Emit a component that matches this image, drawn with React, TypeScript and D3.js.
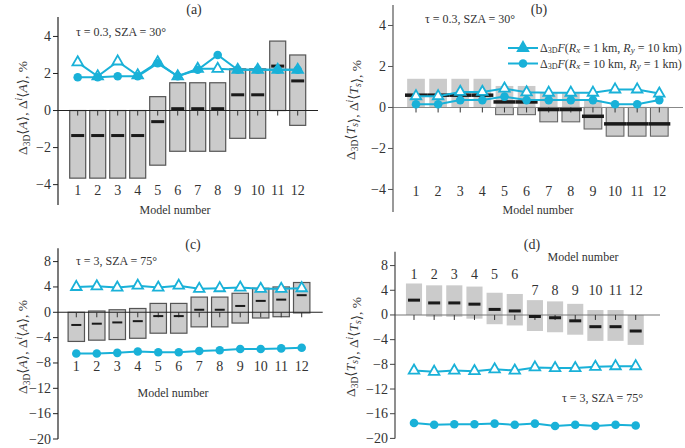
import React from 'react';
import * as d3 from 'd3';

const modelNumbers = [1, 2, 3, 4, 5, 6, 7, 8, 9, 10, 11, 12];
const yTicksTop = [-4, -2, 0, 2, 4];
const yTicksBottom = [-20, -16, -12, -8, -4, 0, 4, 8];

// Panel (a): tau = 0.3, SZA = 30, albedo
const aHigh = [0, 0, 0, 0, 0.75, 1.5, 1.5, 1.5, 2.25, 2.25, 3.75, 3.0];
const aLow = [-3.65, -3.65, -3.65, -3.65, -2.95, -2.2, -2.2, -2.2, -1.5, -1.5, 0, -0.8];
const aMedian = [-1.35, -1.35, -1.35, -1.35, -0.6, 0.1, 0.1, 0.1, 0.85, 0.85, 2.4, 1.6];
const aTri = [2.6, 1.85, 2.65, 1.9, 2.6, 1.85, 2.25, 2.25, 2.2, 2.2, 2.2, 2.2];
const aCirc = [1.8, 1.8, 1.85, 1.85, 2.55, 1.85, 2.2, 3.0, 2.2, 2.2, 2.2, 2.2];

// Panel (b): tau = 0.3, SZA = 30, surface transmittance
const bHigh = [1.4, 1.4, 1.4, 1.4, 1.05, 1.05, 0.7, 0.7, 0.35, 0, 0, 0];
const bLow = [0, 0, 0, 0, -0.35, -0.35, -0.7, -0.7, -1.05, -1.4, -1.4, -1.4];
const bMedian = [0.6, 0.6, 0.6, 0.6, 0.27, 0.27, -0.1, -0.1, -0.43, -0.8, -0.8, -0.8];
const bTri = [0.55, 0.55, 0.76, 0.76, 0.92, 0.74, 0.72, 0.72, 0.72, 0.88, 0.88, 0.68];
const bCirc = [0.16, 0.16, 0.36, 0.36, 0.53, 0.36, 0.36, 0.36, 0.36, 0.16, 0.16, 0.36];

// Panel (c): tau = 3, SZA = 75, albedo
const cHigh = [0, 0.2, 0.4, 0.6, 1.4, 1.4, 2.4, 2.4, 3.0, 3.8, 4.0, 4.7];
const cLow = [-4.6, -4.4, -4.3, -4.1, -3.3, -3.3, -2.3, -2.3, -1.7, -0.9, -0.7, -0.1];
const cMedian = [-2.0, -1.8, -1.6, -1.4, -0.6, -0.6, 0.4, 0.4, 1.0, 1.8, 2.0, 2.7];
const cTri = [4.0, 4.1, 3.9, 4.2, 3.9, 4.2, 3.7, 3.8, 3.9, 3.7, 3.7, 3.8];
const cCirc = [-6.5, -6.5, -6.4, -6.2, -6.3, -6.3, -6.1, -6.0, -5.8, -5.8, -5.7, -5.6];

// Panel (d): tau = 3, SZA = 75, surface transmittance
const dHigh = [5.1, 4.8, 4.8, 4.6, 3.6, 3.4, 2.4, 2.2, 1.8, 0.8, 0.8, 0];
const dLow = [0, -0.3, -0.3, -0.6, -1.5, -1.7, -2.6, -2.8, -3.2, -4.2, -4.2, -4.85];
const dMedian = [2.4, 1.95, 1.95, 1.75, 0.9, 0.65, -0.25, -0.45, -0.95, -1.9, -1.9, -2.6];
const dTri = [-9.0, -9.2, -9.0, -9.1, -8.8, -9.0, -8.5, -8.6, -8.6, -8.4, -8.3, -8.3];
const dCirc = [-17.5, -17.8, -17.7, -17.7, -17.6, -17.8, -17.6, -18.0, -17.8, -18.0, -17.8, -17.9];

const CYAN = '#19b1d8';
const FONT = '"Liberation Serif", "DejaVu Serif", serif';
const fmt = (v: number) => (v < 0 ? '\u2212' + Math.abs(v) : String(v));

type Cfg = {
  axisX: number;
  axisEnd: number;
  first: number;
  last: number;
  yTop: number;
  yBottom: number;
  dTop: number;
  dBottom: number;
  ticks: number[];
  high: number[];
  low: number[];
  median: number[];
  tri: number[];
  circ: number[];
  strokeMode: 'all' | 'neg' | 'none';
  medianW: number;
  medianH: number;
  zeroColor: string;
  axisColor: string;
  labelY: (i: number) => number;
};

function Panel({ cfg }: { cfg: Cfg }) {
  const x = d3.scaleLinear().domain([1, 12]).range([cfg.first, cfg.last]);
  const y = d3.scaleLinear().domain([cfg.dBottom, cfg.dTop]).range([cfg.yBottom, cfg.yTop]);
  const bw = (x(2) - x(1)) * 0.8;
  const line = d3
    .line<number>()
    .x((_, i) => x(modelNumbers[i]))
    .y((d) => y(d));
  const triPath = d3.symbol().type(d3.symbolTriangle).size(48)() as string;
  const y0 = y(0);
  return (
    <g>
      {modelNumbers.map((m, i) => {
        const hi = cfg.high[i];
        const lo = cfg.low[i];
        const stroke = cfg.strokeMode === 'all' ? '#555' : 'none';
        return (
          <g key={'b' + m}>
            <rect
              x={x(m) - bw / 2}
              y={y(hi)}
              width={bw}
              height={y(lo) - y(hi)}
              fill="#cbcbcb"
              stroke={stroke}
              strokeWidth={1.2}
            />
            {cfg.strokeMode === 'neg' && lo < 0 && (
              <rect
                x={x(m) - bw / 2}
                y={y(Math.min(hi, 0))}
                width={bw}
                height={y(lo) - y(Math.min(hi, 0))}
                fill="none"
                stroke="#666"
                strokeWidth={1.1}
              />
            )}
          </g>
        );
      })}
      <line x1={cfg.axisX} x2={cfg.axisEnd} y1={y0} y2={y0} stroke={cfg.zeroColor} strokeWidth={1.1} />
      {modelNumbers.map((m) => (
        <line key={'t' + m} x1={x(m)} x2={x(m)} y1={y0} y2={y0 + 5} stroke="#333" strokeWidth={1} />
      ))}
      {modelNumbers.map((m, i) => (
        <rect
          key={'m' + m}
          x={x(m) - cfg.medianW / 2}
          y={y(cfg.median[i]) - cfg.medianH / 2}
          width={cfg.medianW}
          height={cfg.medianH}
          fill="#1a1a1a"
        />
      ))}
      <line x1={cfg.axisX} x2={cfg.axisX} y1={cfg.yTop} y2={cfg.yBottom} stroke={cfg.axisColor} strokeWidth={1.2} />
      {cfg.ticks.map((t) => (
        <g key={'y' + t}>
          <line x1={cfg.axisX - 5} x2={cfg.axisX} y1={y(t)} y2={y(t)} stroke={cfg.axisColor} strokeWidth={1} />
          <text
            x={cfg.axisX - 7}
            y={y(t)}
            textAnchor="end"
            dominantBaseline="central"
            fontSize={14}
            fontFamily={FONT}
            fill="#333"
          >
            {fmt(t)}
          </text>
        </g>
      ))}
      {modelNumbers.map((m, i) => (
        <text
          key={'x' + m}
          x={x(m)}
          y={cfg.labelY(i)}
          textAnchor="middle"
          dominantBaseline="central"
          fontSize={14}
          fontFamily={FONT}
          fill="#333"
        >
          {m}
        </text>
      ))}
      <path d={line(cfg.tri) as string} fill="none" stroke={CYAN} strokeWidth={2} />
      <path d={line(cfg.circ) as string} fill="none" stroke={CYAN} strokeWidth={2} />
      {modelNumbers.map((m, i) => (
        <path
          key={'tr' + m}
          d={triPath}
          transform={`translate(${x(m)},${y(cfg.tri[i])})`}
          fill="#fff"
          stroke={CYAN}
          strokeWidth={1.8}
        />
      ))}
      {modelNumbers.map((m, i) => (
        <circle key={'c' + m} cx={x(m)} cy={y(cfg.circ[i])} r={4.3} fill={CYAN} />
      ))}
    </g>
  );
}

function YLabel({ x, y, sym }: { x: number; y: number; sym: 'A' | 'T' }) {
  const inner = (k: string) =>
    sym === 'A' ? (
      <tspan key={k} fontStyle="italic">A</tspan>
    ) : (
      [
        <tspan key={k + 'T'} fontStyle="italic">T</tspan>,
        <tspan key={k + 's'} fontStyle="italic" fontSize={9.5} dy={3}>s</tspan>,
        <tspan key={k + 'r'} dy={-3}>{''}</tspan>,
      ]
    );
  return (
    <text
      transform={`translate(${x},${y}) rotate(-90)`}
      textAnchor="middle"
      fontSize={13.5}
      fontFamily={FONT}
      fill="#333"
    >
      <tspan>Δ</tspan>
      <tspan fontSize={9.5} dy={3}>3D</tspan>
      <tspan dy={-3}>⟨</tspan>
      {inner('a')}
      <tspan>⟩, Δ</tspan>
      <tspan fontSize={9.5} dy={-5} fontStyle="italic">i</tspan>
      <tspan dy={5}>⟨</tspan>
      {inner('b')}
      <tspan>⟩, %</tspan>
    </text>
  );
}

function Txt({ x, y, children, size = 12, anchor = 'start' }: any) {
  return (
    <text x={x} y={y} fontSize={size} fontFamily={FONT} fill="#333" dominantBaseline="central" textAnchor={anchor}>
      {children}
    </text>
  );
}

export default function App() {
  const triPath = d3.symbol().type(d3.symbolTriangle).size(48)() as string;
  const cfgA: Cfg = {
    axisX: 58, axisEnd: 318, first: 77.7, last: 297.7,
    yTop: 17, yBottom: 205, dTop: 5.05, dBottom: -5.1, ticks: yTicksTop,
    high: aHigh, low: aLow, median: aMedian, tri: aTri, circ: aCirc,
    strokeMode: 'all', medianW: 13, medianH: 3, zeroColor: '#222', axisColor: '#222',
    labelY: () => 190,
  };
  const cfgB: Cfg = {
    axisX: 393, axisEnd: 683, first: 416, last: 659.3,
    yTop: 5, yBottom: 212, dTop: 5.0, dBottom: -5.1, ticks: yTicksTop,
    high: bHigh, low: bLow, median: bMedian, tri: bTri, circ: bCirc,
    strokeMode: 'neg', medianW: 22, medianH: 3.5, zeroColor: '#888', axisColor: '#555',
    labelY: () => 191,
  };
  const cfgC: Cfg = {
    axisX: 58, axisEnd: 322.7, first: 76.3, last: 301.7,
    yTop: 248.3, yBottom: 439, dTop: 10.1, dBottom: -20, ticks: yTicksBottom,
    high: cHigh, low: cLow, median: cMedian, tri: cTri, circ: cCirc,
    strokeMode: 'all', medianW: 10, medianH: 2, zeroColor: '#222', axisColor: '#222',
    labelY: () => 366.7,
  };
  const cfgD: Cfg = {
    axisX: 395, axisEnd: 660, first: 414, last: 635.7,
    yTop: 251.7, yBottom: 438.4, dTop: 10.25, dBottom: -20, ticks: yTicksBottom,
    high: dHigh, low: dLow, median: dMedian, tri: dTri, circ: dCirc,
    strokeMode: 'none', medianW: 12, medianH: 3, zeroColor: '#777', axisColor: '#444',
    labelY: (i: number) => (i < 6 ? 274 : 290),
  };
  return (
    <svg width={685} height={448} style={{ position: 'absolute', left: 0, top: 0, background: '#fff' }}>
      <rect width={685} height={448} fill="#fff" />
      <Panel cfg={cfgA} />
      <Panel cfg={cfgB} />
      <Panel cfg={cfgC} />
      <Panel cfg={cfgD} />

      <Txt x={194} y={9} size={14} anchor="middle">(a)</Txt>
      <Txt x={539} y={9} size={14} anchor="middle">(b)</Txt>
      <Txt x={193} y={244} size={14} anchor="middle">(c)</Txt>
      <Txt x={532} y={244} size={14} anchor="middle">(d)</Txt>

      <Txt x={76} y={32}>τ = 0.3, SZA = 30°</Txt>
      <Txt x={425} y={19}>τ = 0.3, SZA = 30°</Txt>
      <Txt x={76} y={261}>τ = 3, SZA = 75°</Txt>
      <Txt x={562} y={398}>τ = 3, SZA = 75°</Txt>

      <Txt x={175} y={210} anchor="middle">Model number</Txt>
      <Txt x={538} y={210} anchor="middle">Model number</Txt>
      <Txt x={173} y={393} anchor="middle">Model number</Txt>
      <Txt x={583} y={257} anchor="middle">Model number</Txt>

      <YLabel x={27} y={108} sym="A" />
      <YLabel x={355} y={110} sym="T" />
      <YLabel x={27} y={347} sym="A" />
      <YLabel x={355} y={347} sym="T" />

      {/* legend in (b) */}
      <line x1={508} x2={538} y1={48} y2={48} stroke={CYAN} strokeWidth={2} />
      <path d={triPath} transform="translate(523,48)" fill={CYAN} stroke={CYAN} strokeWidth={1.8} />
      <line x1={508} x2={538} y1={63.5} y2={63.5} stroke={CYAN} strokeWidth={2} />
      <circle cx={523} cy={63.5} r={4.3} fill={CYAN} />
      {[
        { yy: 48, a: '1', b: '10' },
        { yy: 63.5, a: '10', b: '1' },
      ].map((e, k) => (
        <text key={k} x={540} y={e.yy} fontSize={12} fontFamily={FONT} fill="#333" dominantBaseline="central">
          <tspan>Δ</tspan>
          <tspan fontSize={8} dy={2}>3D</tspan>
          <tspan dy={-2} fontStyle="italic">F</tspan>
          <tspan>(</tspan>
          <tspan fontStyle="italic">R</tspan>
          <tspan fontStyle="italic" fontSize={9} dy={2}>x</tspan>
          <tspan dy={-2}>{` = ${e.a} km, `}</tspan>
          <tspan fontStyle="italic">R</tspan>
          <tspan fontStyle="italic" fontSize={9} dy={2}>y</tspan>
          <tspan dy={-2}>{` = ${e.b} km)`}</tspan>
        </text>
      ))}
    </svg>
  );
}
